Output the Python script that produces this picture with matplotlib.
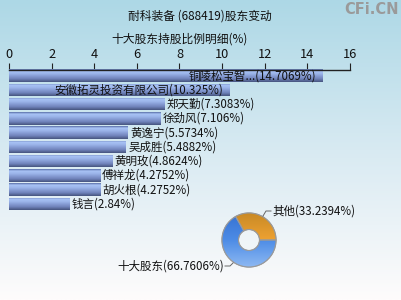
import numpy as np
import matplotlib
matplotlib.use('Agg')
import matplotlib.pyplot as plt
from matplotlib.colors import LinearSegmentedColormap
from matplotlib.patches import Wedge

plt.rcParams['font.family'] = ['Noto Sans CJK SC', 'DejaVu Sans']

# data
holders = ['铜陵松宝智...', '安徽拓灵投资有限公司', '郑天勤', '徐劲风', '黄逸宁',
           '吴成胜', '黄明玫', '傅祥龙', '胡火根', '钱言']
shares = [14.7069, 10.325, 7.3083, 7.106, 5.5734, 5.4882, 4.8624, 4.2752, 4.2752, 2.84]
pie_labels = ['其他', '十大股东']
pie_values = [33.2394, 66.7606]
xticks = [0, 2, 4, 6, 8, 10, 12, 14, 16]

W, H = 402, 300
fig = plt.figure(figsize=(W / 100, H / 100), dpi=100)

# background gradient, light blue at top to near white at bottom
bg = fig.add_axes([0, 0, 1, 1], zorder=-10)
bg_cmap = LinearSegmentedColormap.from_list('bg', ['#add8e6', '#d8eaf2', '#fefcfc'])
bg.imshow(np.linspace(0, 1, 256).reshape(-1, 1), aspect='auto', cmap=bg_cmap,
          extent=[0, 1, 0, 1])
bg.axis('off')

fig.text(200 / W, 1 - 16 / H, '耐科装备 (688419)股东变动', ha='center', va='center',
         fontsize=8.5, color='#111111')
fig.text(180 / W, 1 - 39 / H, '十大股东持股比例明细(%)', ha='center', va='center',
         fontsize=8.5, color='#111111')
fig.text(399 / W, 1 - 10 / H, 'CFi.CN', ha='right', va='center', fontsize=10.5,
         fontweight='bold', color='#9a9a9a', family='DejaVu Sans')

# bar chart
x0, x1 = 9, 350
ytop, ybot = 69.5, 210
ax = fig.add_axes([x0 / W, 1 - ybot / H, (x1 - x0) / W, (ybot - ytop) / H])
ax.patch.set_alpha(0)
bar_h = 0.87
ypos = np.arange(len(holders))
bars = ax.barh(ypos, shares, height=bar_h, color='none', edgecolor='none')

bar_cmap = LinearSegmentedColormap.from_list(
    'bar', [(0, '#5a6fa8'), (0.15, '#a9c3f5'), (0.35, '#9bb4ea'),
            (0.75, '#7083bb'), (1, '#46557f')])
grad = np.linspace(0, 1, 64).reshape(-1, 1)
for b, y, v in zip(bars, ypos, shares):
    im = ax.imshow(grad, aspect='auto', cmap=bar_cmap,
                   extent=[0, v, y + bar_h / 2, y - bar_h / 2], zorder=2)
    im.set_clip_path(b)

ax.set_xlim(0, 16)
ax.set_ylim(ypos[-1] + bar_h / 2, -bar_h / 2)

for y, name, v in zip(ypos, holders, shares):
    txt = f'{name}({v:g}%)'
    if v > 10:
        ax.text(v - 0.3, y, txt, ha='right', va='center', fontsize=8.3,
                color='#111111', zorder=3)
    else:
        ax.text(v + 0.1, y, txt, ha='left', va='center', fontsize=8.3,
                color='#111111', zorder=3)

for s in ['right', 'bottom', 'left']:
    ax.spines[s].set_visible(False)
ax.spines['top'].set_color('#222222')
ax.spines['top'].set_linewidth(1)
ax.xaxis.tick_top()
ax.set_xticks(xticks)
ax.set_xticklabels([str(t) for t in xticks], fontsize=9.2, color='#111111')
ax.tick_params(axis='x', direction='out', length=5, width=0.8, pad=1, colors='#222222')
for lab in ax.get_xticklabels():
    lab.set_color('#111111')
ax.set_yticks([])

# donut
cx, cy, r = 249, 240, 27
size = 60
pax = fig.add_axes([(cx - size / 2) / W, 1 - (cy + size / 2) / H, size / W, size / H])
pax.patch.set_alpha(0)
wedges, _ = pax.pie(pie_values, colors=['#e9a02e', '#4a8be6'], startangle=0,
                    radius=1, wedgeprops=dict(width=0.61, edgecolor='#9a9a9a',
                                              linewidth=0.8))
lim = size / 2 / r

# shading on the ring, lighter at bottom, darker at top
shades = [['#f6b444', '#eea232', '#c98a26'], ['#8cb8f2', '#4d8ce6', '#3672d2']]
g = np.linspace(0, 1, 64).reshape(-1, 1)
for w, cols in zip(wedges, shades):
    cm = LinearSegmentedColormap.from_list('w', cols)
    im = pax.imshow(g, aspect='auto', cmap=cm, extent=[-1, 1, -1, 1],
                    origin='lower', zorder=w.get_zorder() + 0.1)
    im.set_clip_path(w)
    pax.add_patch(Wedge(w.center, w.r, w.theta1, w.theta2, width=w.width,
                        facecolor='none', edgecolor='#9a9a9a', lw=0.8,
                        zorder=w.get_zorder() + 0.2))
pax.set_xlim(-lim, lim)
pax.set_ylim(-lim, lim)
pax.set_aspect('equal')

# labels with leader lines, in pixel coords relative to donut center
def px(x, y):
    return ((x - cx) / r, (cy - y) / r)

pax.plot(*zip(px(263, 216), px(266, 211), px(271, 211)), color='#666666', lw=0.7,
         clip_on=False)
pax.text(*px(272, 211), f'{pie_labels[0]}({pie_values[0]:g}%)', ha='left',
         va='center', fontsize=8.3, color='#111111', clip_on=False)
pax.plot(*zip(px(233, 263), px(230, 266), px(225, 266)), color='#666666', lw=0.7,
         clip_on=False)
pax.text(*px(224, 266), f'{pie_labels[1]}({pie_values[1]:g}%)', ha='right',
         va='center', fontsize=8.3, color='#111111', clip_on=False)

fig.savefig('out.png', dpi=100)
